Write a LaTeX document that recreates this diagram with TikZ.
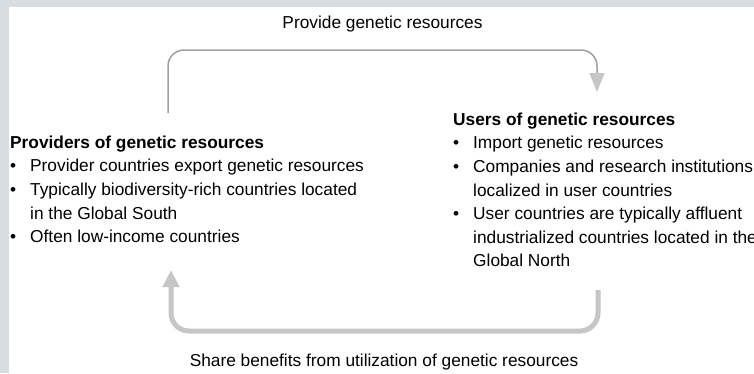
\documentclass[tikz,border=0pt]{standalone}
\usepackage{fontspec}
\setmainfont{Liberation Sans}
\usetikzlibrary{arrows.meta,positioning}

\definecolor{panelgray}{RGB}{214,222,226}
\definecolor{thinarrow}{RGB}{160,160,160}
\definecolor{thickarrow}{RGB}{198,198,198}

\newcommand{\itembul}{\makebox[20bp][l]{\textbullet}}
\newcommand{\itemgap}{\hspace*{20bp}}

\begin{document}
\begin{tikzpicture}[x=1bp,y=-1bp,
  every node/.style={inner sep=0pt,font=\fontsize{17.3bp}{23.6bp}\selectfont},
  block/.style={anchor=north west,align=left},
  flowlabel/.style={anchor=base},
  provide/.style={draw=thinarrow,line width=1.5bp,rounded corners=16bp,
    -{Triangle[width=15bp,length=19bp,color=thickarrow]}},
  share/.style={draw=thickarrow,line width=5bp,rounded corners=18bp,
    -{Triangle[width=16bp,length=17bp,color=thickarrow]}}]
\useasboundingbox (0,0) rectangle (754,373);
\fill[panelgray] (0,0) rectangle (754,373);
\fill[white] (9,7) rectangle (754,373);

% the two groups
\node[block] (providers) at (10,135.6) {\textbf{Providers of genetic resources}\\
  \itembul Provider countries export genetic resources\\
  \itembul Typically biodiversity-rich countries located\\
  \itemgap in the Global South\\
  \itembul Often low-income countries};
\node[block] (users) at (453,112.6) {\textbf{Users of genetic resources}\\
  \itembul Import genetic resources\\
  \itembul Companies and research institutions\\
  \itemgap localized in user countries\\
  \itembul User countries are typically affluent\\
  \itemgap industrialized countries located in the\\
  \itemgap Global North};

% ends of the flows
\coordinate (provOut) at (168,113);
\coordinate (topBend) at (597,50);
\coordinate (userIn) at (597,92);
\coordinate (userOut) at (598,290);
\coordinate (botBend) at (171,331);
\coordinate (provIn) at (171,270);

\draw[provide] (provOut) |- (topBend) -- (userIn);
\draw[share] (userOut) |- (botBend) -- (provIn);

\node[flowlabel] (give) at (382.5,28) {Provide genetic resources};
\node[flowlabel] (benefit) at (384,366) {Share benefits from utilization of genetic resources};
\end{tikzpicture}
\end{document}
